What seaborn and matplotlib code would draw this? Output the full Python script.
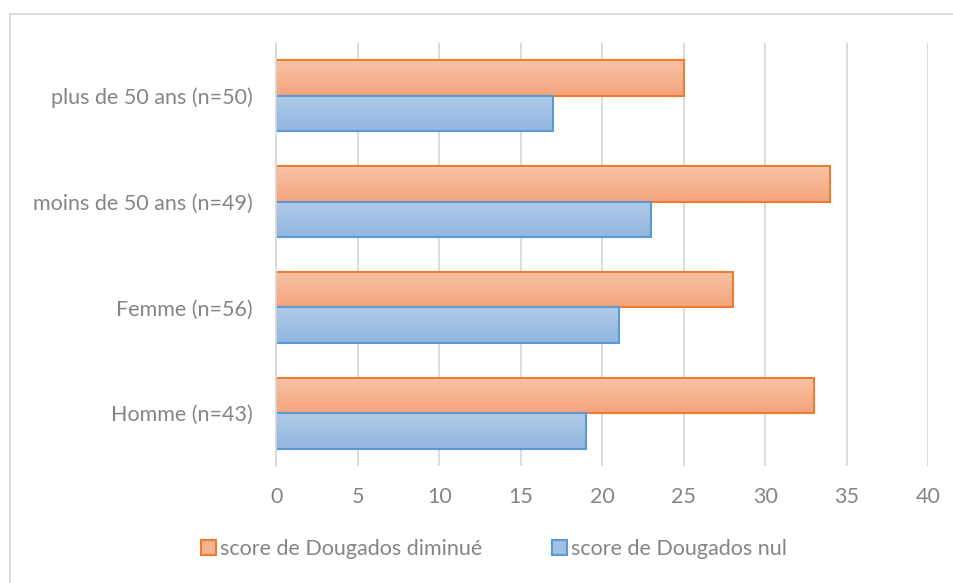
import pandas as pd
import numpy as np
import matplotlib.pyplot as plt
import seaborn as sns
from matplotlib.patches import Rectangle, Patch
from matplotlib.colors import LinearSegmentedColormap

# data
categories = ['plus de 50 ans (n=50)', 'moins de 50 ans (n=49)', 'Femme (n=56)', 'Homme (n=43)']
diminue = [25, 34, 28, 33]
nul = [17, 23, 21, 19]
series = ['score de Dougados diminué', 'score de Dougados nul']

df = pd.DataFrame({
    'cat': categories * 2,
    'val': diminue + nul,
    'serie': [series[0]] * 4 + [series[1]] * 4,
})

sns.set_style('white')
plt.rcParams['font.family'] = ['Lato', 'DejaVu Sans']
txt = '#858585'
fs = 15.5

fig = plt.figure(figsize=(9.54, 5.83), dpi=100)
ax = fig.add_axes([276.5 / 954, 1 - 466 / 583, (928 - 276.5) / 954, (466 - 43) / 583])

edge = {series[0]: '#ed7d31', series[1]: '#5b9bd5'}
sns.barplot(data=df, y='cat', x='val', hue='serie', order=categories, hue_order=series,
            orient='h', width=0.67, palette=['#f6b291', '#a2c0e6'], ax=ax, legend=False)

# gradient fill like the office chart
grads = {series[0]: ['#f8c3a7', '#f4a47c'], series[1]: ['#b0cbea', '#92b6e0']}
for cont, s in zip(ax.containers, series):
    cmap = LinearSegmentedColormap.from_list(s, grads[s])
    for bar in cont:
        bar.set_edgecolor(edge[s])
        bar.set_linewidth(1.5)
        x0, y0 = bar.get_x(), bar.get_y()
        w, h = bar.get_width(), bar.get_height()
        im = ax.imshow(np.linspace(0, 1, 50).reshape(-1, 1), cmap=cmap, aspect='auto',
                       extent=[x0, x0 + w, y0 + h, y0], zorder=bar.get_zorder(),
                       origin='upper')
        im.set_clip_path(bar)
        bar.set_facecolor('none')
        bar.set_zorder(bar.get_zorder() + 0.1)

ax.set_xlim(0, 40)
ax.set_ylim(3.5, -0.5)
ax.set_xticks(range(0, 41, 5))
ax.grid(axis='x', color='#d9d9d9', linewidth=1.3)
ax.set_axisbelow(True)
for sp in ['top', 'right', 'bottom']:
    ax.spines[sp].set_visible(False)
ax.spines['left'].set_color('#d9d9d9')
ax.spines['left'].set_linewidth(1.3)
ax.tick_params(axis='y', length=0, labelsize=fs, labelcolor=txt, pad=17)
ax.tick_params(axis='x', length=0, labelsize=fs, labelcolor=txt, pad=15)
ax.set_xlabel('')
ax.set_ylabel('')

handles = [Patch(facecolor='#f6b291', edgecolor=edge[series[0]], linewidth=1.5),
           Patch(facecolor='#a2c0e6', edgecolor=edge[series[1]], linewidth=1.5)]
fig.legend(handles, series, loc='center', bbox_to_anchor=(494 / 954, 1 - 549 / 583),
           ncol=2, frameon=False, fontsize=fs, labelcolor=txt, handlelength=0.7,
           handleheight=0.7, handletextpad=0.2, columnspacing=3.2)

# chart frame
fig.patches.append(Rectangle((10 / 954, -0.05), 1.1, 1 - 14 / 583 + 0.05, transform=fig.transFigure,
                             fill=False, edgecolor='#d9d9d9', linewidth=1.3))

fig.savefig('out.png', dpi=100)
